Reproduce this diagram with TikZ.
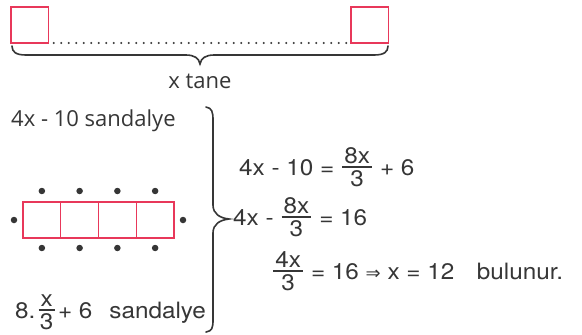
\documentclass[tikz,border=0pt]{standalone}
\usepackage{amsmath}
\usepackage{fontspec}
\setmainfont{TeX Gyre Heros}[FakeStretch=1.08]
\newfontfamily\osans{Open Sans}
\newfontfamily\dvs{DejaVu Sans}
\definecolor{ink}{HTML}{363636}
\definecolor{pinkred}{HTML}{E8385A}
\newcommand{\fr}[2]{\raisebox{3pt}{$\genfrac{}{}{1.4pt}{1}{\mbox{\kern2pt#1\kern2pt}}{\mbox{\rule{0pt}{0.8em}#2}}$}}
\begin{document}
\begin{tikzpicture}[x=1pt,y=-1pt,
  every node/.style={text=ink, font=\fontsize{22.5}{26}\selectfont, inner sep=0pt},
  lbl/.style={font=\osans\fontsize{22}{26}\selectfont},
  redbox/.style={draw=pinkred, line width=1.4pt, minimum width=37.75pt, minimum height=36pt, inner sep=0pt, outer sep=0pt, anchor=north west},
  dot/.style={circle, fill=ink, minimum size=6.5pt, inner sep=0pt},
  bracestyle/.style={draw=ink, line width=1.6pt, line cap=round}]
\useasboundingbox (0,0) rectangle (582,335);
% top row
\node[redbox] (sqL) at (11,7) {};
\node[redbox] (sqR) at (351,7) {};
\draw[ink, line width=2.3pt, dash pattern=on 0pt off 7.5pt, line cap=round, shorten <=5pt, shorten >=3pt] (sqL.south east) -- (sqR.south west);
\draw[bracestyle] (12,46) .. controls (12,52) and (16,55) .. (26,55) -- (186,55) .. controls (194,55) and (199,58) .. (200,64) .. controls (201,58) and (206,55) .. (214,55) -- (374,55) .. controls (384,55) and (388,52) .. (388,46);
\node[lbl, anchor=base] (tane) at (200,88) {x tane};
% left block
\node[lbl, anchor=base west] (top) at (11,126) {4x - 10 sandalye};
\node[redbox] (b1) at (23,202) {};
\node[redbox] (b2) at (b1.north east) {};
\node[redbox] (b3) at (b2.north east) {};
\node[redbox] (b4) at (b3.north east) {};
\foreach \b in {b1,b2,b3,b4}{
  \node[dot] (\b t) at ([yshift=11pt]\b.north) {};
  \node[dot] (\b d) at ([yshift=-10pt]\b.south) {};
}
\node[dot] (dl) at ([xshift=-9pt]b1.west) {};
\node[dot] (dr) at ([xshift=9pt]b4.east) {};
\node[anchor=base west] (bot) at (15,318) {8.\kern2pt\fr{x}{3}\kern2pt+ 6\hspace{17pt}sandalye};
% big brace
\draw[bracestyle] (206,107) .. controls (212,108) and (213,112) .. (213,120) -- (213,205) .. controls (213,214) and (220,218) .. (229,219) .. controls (220,220) and (213,224) .. (213,233) -- (213,320) .. controls (213,328) and (212,331) .. (206,332);
% equations
\node[anchor=base west] (eq1) at (239,175) {4x - 10 = \fr{8x}{3} + 6};
\node[anchor=base west] (eq2) at (233,225) {4x - \fr{8x}{3} = 16};
\node[anchor=base west] (eq3) at (272,279) {\fr{4x}{3} = 16 {\dvs\fontsize{18}{20}\selectfont ⇒} x = 12\quad bulunur.};
\end{tikzpicture}
\end{document}
